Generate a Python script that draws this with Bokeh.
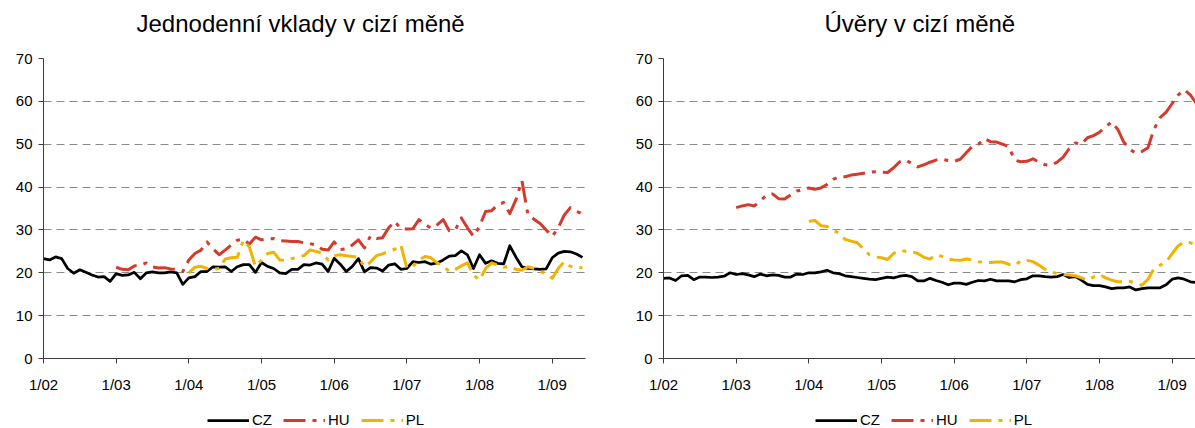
from bokeh.plotting import figure
from bokeh.models import FixedTicker, Legend, LegendItem, Range1d, Label
from bokeh.layouts import row, column
from bokeh.embed import file_html
from bokeh.resources import INLINE

# ---- data (monthly, month 0 = 1/2002) ----
tick_months = [0, 12, 24, 36, 48, 60, 72, 84]
tick_labels = ["1/02", "1/03", "1/04", "1/05", "1/06", "1/07", "1/08", "1/09"]
series_names = ["CZ", "HU", "PL"]
titles = ["Jednodenní vklady v cizí měně", "Úvěry v cizí měně"]

# Jednodenní vklady v cizí měně
dep_cz = [23.3, 23.0, 23.7, 23.3, 21.0, 19.9, 20.7, 20.1, 19.5, 19.0, 19.1, 18.0,
          19.8, 19.4, 19.5, 20.1, 18.6, 20.0, 20.2, 20.0, 20.0, 20.2, 20.0, 17.3,
          18.8, 19.1, 20.3, 20.3, 21.4, 21.3, 21.4, 20.3, 21.4, 21.9, 21.9, 20.1,
          22.4, 21.5, 21.0, 20.0, 19.8, 20.8, 20.8, 21.9, 21.8, 22.3, 22.0, 20.3,
          23.4, 22.0, 20.3, 21.5, 23.3, 20.2, 21.2, 21.1, 20.4, 21.8, 22.1, 20.8,
          21.0, 22.6, 22.4, 22.6, 22.0, 22.3, 23.0, 23.9, 24.0, 25.1, 24.2, 21.0,
          24.2, 22.2, 22.8, 22.2, 22.1, 26.3, 23.7, 21.4, 21.0, 20.9, 20.8, 20.9,
          23.5, 24.6, 25.0, 24.9, 24.4, 23.6]
dep_hu_start = 12
dep_hu = [21.3, 20.8, 20.7, 21.6, 21.8, 22.3, 21.4, 21.1, 21.2, 20.9, 20.8, 20.3,
          23.0, 24.5, 25.3, 27.2, 25.6, 24.2, 25.3, 26.5, 27.6, 27.8, 26.7, 28.3,
          27.7, 27.9, 28.0, 27.5, 27.4, 27.3, 27.3, 27.0, 26.8, 26.5, 25.5, 25.3,
          27.2, 25.4, 25.6, 26.5, 27.7, 25.8, 28.6, 28.0, 28.2, 30.5, 32.0, 30.3,
          30.2, 30.3, 32.4, 31.3, 30.4, 31.2, 32.4, 29.8, 30.0, 32.8, 30.5, 28.5,
          30.8, 34.3, 34.5, 35.9, 36.4, 33.8, 37.0, 41.5, 33.5, 32.5, 31.5, 30.0,
          28.5, 30.5, 33.5, 35.2, 34.3, 33.8]
dep_pl_start = 24
dep_pl = [20.0, 21.3, 21.5, 21.0, 20.8, 21.0, 23.2, 23.5, 23.6, 27.6, 26.0, 21.5,
          23.0, 24.5, 24.8, 23.0, 22.9, 23.3, 23.6, 24.0, 25.3, 25.0, 24.6, 23.0,
          24.0, 24.2, 24.0, 23.8, 23.6, 21.4, 22.5, 24.0, 24.4, 25.0, 25.5, 26.5,
          21.1, 21.5, 23.0, 23.8, 23.5, 22.3, 21.6, 20.3, 20.8, 21.6, 22.3, 19.5,
          18.3, 21.0, 22.3, 21.8, 21.3, 21.5, 20.8, 20.6, 21.4, 21.0, 20.3, 19.8,
          18.7, 21.0, 22.6, 21.5, 21.4, 21.1]

# Úvěry v cizí měně
loan_cz = [18.7, 18.8, 18.2, 19.3, 19.4, 18.4, 19.0, 19.0, 18.9, 19.0, 19.2, 20.0,
           19.6, 19.8, 19.5, 19.1, 19.7, 19.3, 19.5, 19.4, 19.0, 19.0, 19.7, 19.6,
           20.0, 20.0, 20.2, 20.6, 20.0, 19.8, 19.3, 19.1, 18.9, 18.7, 18.5, 18.4,
           18.7, 19.0, 18.8, 19.2, 19.4, 19.1, 18.1, 18.1, 18.7, 18.2, 17.8, 17.2,
           17.6, 17.6, 17.3, 17.8, 18.2, 18.1, 18.5, 18.1, 18.1, 18.1, 17.9, 18.4,
           18.6, 19.3, 19.3, 19.1, 19.0, 19.1, 19.6, 18.9, 19.1, 18.3, 17.3, 17.0,
           17.0, 16.7, 16.3, 16.5, 16.5, 16.7, 16.0, 16.3, 16.5, 16.5, 16.5, 17.2,
           18.5, 18.8, 18.5, 17.9, 17.7, 17.6]
loan_hu_start = 12
loan_hu = [35.2, 35.6, 35.9, 35.6, 36.8, 38.1, 38.4, 37.3, 37.2, 38.2, 39.1, 39.4,
           39.8, 39.5, 39.8, 40.6, 41.8, 42.4, 42.4, 42.8, 43.0, 43.2, 43.5, 43.6,
           43.5, 43.4, 44.5, 45.9, 46.3, 45.5, 44.7, 45.2, 45.8, 46.3, 46.5, 46.2,
           46.0, 46.5, 48.0, 49.5, 50.0, 51.3, 50.6, 50.5, 50.0, 49.4, 46.3, 45.9,
           46.0, 46.6, 45.8, 45.2, 45.1, 45.8, 47.0, 49.0, 50.3, 50.0, 51.5, 52.0,
           52.8, 54.0, 55.2, 53.5, 50.5, 48.8, 47.9, 48.3, 49.2, 53.5, 56.2, 57.5,
           59.5, 61.5, 62.7, 61.5, 59.5, 58.0]
loan_pl_start = 24
loan_pl = [32.0, 32.2, 31.0, 30.8, 30.0, 29.2, 27.8, 27.4, 27.0, 25.6, 24.2, 23.7,
           23.5, 23.1, 24.5, 25.2, 25.0, 24.9, 24.5, 23.6, 23.2, 24.2, 23.8, 23.2,
           23.0, 22.9, 23.2, 23.0, 22.6, 22.5, 22.4, 22.5, 22.5, 22.0, 21.7, 22.8,
           22.9, 22.6, 21.8, 20.8, 20.2, 19.8, 19.6, 19.5, 19.3, 18.8, 18.3, 19.0,
           19.6, 18.8, 18.3, 17.9, 17.9, 18.0, 17.6, 17.1, 18.5, 21.0, 21.8, 22.5,
           24.5, 26.3, 27.2, 27.0, 26.4, 26.0]

COL_CZ = "#000000"
COL_HU = "#D43B2D"
COL_PL = "#F2B300"
FONT = "Liberation Sans"
PX_PER_MONTH = 542 / 89.5
STYLES = [dict(line_color=COL_CZ, line_width=2.75, line_join="round"),
          dict(line_color=COL_HU, line_width=3, line_dash="22 7 4 7", line_join="round"),
          dict(line_color=COL_PL, line_width=3, line_dash="22 7 4 7", line_join="round")]


def draw_series(p, cz, hu, hu_start, pl, pl_start):
    r1 = p.line(list(range(len(cz))), cz, **STYLES[0])
    r2 = p.line(list(range(hu_start, hu_start + len(hu))), hu, **STYLES[1])
    r3 = p.line(list(range(pl_start, pl_start + len(pl))), pl, **STYLES[2])
    return [r1, r2, r3]


def bare_figure(width, height, origin=0):
    f = figure(width=width, height=height,
               x_range=Range1d(origin, origin + width),
               y_range=Range1d(origin, origin + height), output_backend="svg",
               toolbar_location=None, x_axis_location=None,
               y_axis_location=None, min_border=0)
    f.outline_line_color = None
    f.grid.visible = False
    return f


def make_title(width, text, x):
    t = bare_figure(width, 44)
    t.add_layout(Label(x=x, y=21.5, text=text, text_font=FONT,
                       text_font_size="24px", text_color="#000000",
                       text_align="left", text_baseline="alphabetic"))
    return t


def make_panel(series, width, border_left, border_right, xmax):
    p = figure(width=width, height=354, x_range=Range1d(0, xmax),
               y_range=Range1d(0, 70), output_backend="svg",
               toolbar_location=None, min_border_left=border_left,
               min_border_right=border_right, min_border_top=14,
               min_border_bottom=40)
    p.outline_line_color = None
    draw_series(p, *series)

    p.xgrid.visible = False
    p.ygrid.ticker = FixedTicker(ticks=[10, 20, 30, 40, 50, 60, 70])
    p.ygrid.grid_line_color = "#8a8a8a"
    p.ygrid.grid_line_dash = "8 5"
    p.ygrid.grid_line_width = 1

    p.yaxis.ticker = FixedTicker(ticks=[0, 10, 20, 30, 40, 50, 60, 70])
    p.xaxis.ticker = FixedTicker(ticks=tick_months)
    p.xaxis.major_label_overrides = {m: lab for m, lab in zip(tick_months, tick_labels)}
    for ax in (p.xaxis, p.yaxis):
        ax.axis_line_color = "#3c3c3c"
        ax.axis_line_width = 1
        ax.major_tick_line_color = "#3c3c3c"
        ax.major_tick_out = 5
        ax.major_tick_in = 0
        ax.minor_tick_line_color = None
        ax.major_label_text_font = FONT
        ax.major_label_text_font_size = "15px"
        ax.major_label_text_color = "#000000"
    p.yaxis.major_label_standoff = 6
    p.xaxis.major_label_standoff = 12
    return p


def make_legend(width, x, series):
    # the strip's ranges lie far from the data, so only the legend samples show
    lf = bare_figure(width, 30, origin=10000)
    rs = draw_series(lf, *series)
    legend = Legend(items=[LegendItem(label=n, renderers=[r])
                           for n, r in zip(series_names, rs)],
                    orientation="horizontal", location=(x, 0),
                    border_line_color=None, background_fill_alpha=0,
                    label_text_font=FONT, label_text_font_size="15px",
                    label_text_color="#000000",
                    glyph_width=42, glyph_height=16, label_height=16,
                    label_standoff=3, spacing=11, padding=0, margin=0)
    lf.add_layout(legend)
    return lf


dep_series = (dep_cz, dep_hu, dep_hu_start, dep_pl, dep_pl_start)
loan_series = (loan_cz, loan_hu, loan_hu_start, loan_pl, loan_pl_start)

t1 = make_title(605, titles[0], 136)
t2 = make_title(590, titles[1], 219)
p1 = make_panel(dep_series, width=605, border_left=43, border_right=20, xmax=89.5)
p2 = make_panel(loan_series, width=590, border_left=58, border_right=0,
                xmax=532 / PX_PER_MONTH)
l1 = make_legend(605, 207, dep_series)
l2 = make_legend(590, 210, loan_series)

layout = column(row(t1, t2), row(p1, p2), row(l1, l2))
open("out.html", "w").write(file_html(layout, INLINE))
